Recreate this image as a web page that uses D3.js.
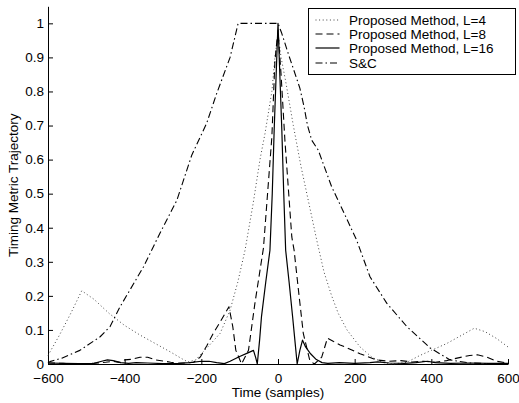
<!DOCTYPE html>
<html>
<head>
<meta charset="utf-8">
<script src="https://cdn.jsdelivr.net/npm/d3@7"></script>
<style>
    body { margin: 0; background: #fff; }
    svg { display: block; font-family: "Liberation Sans", Arial, Helvetica, sans-serif; }
    .axis text { font-size: 13.5px; fill: #000; }
    .axis path, .axis line { stroke: #000; stroke-width: 1; }
</style>
</head>
<body>
<div id="chart"></div>
<script>
// Timing metric trajectories

const xTicks = [-600, -400, -200, 0, 200, 400, 600];
const yTicks = [0, 0.1, 0.2, 0.3, 0.4, 0.5, 0.6, 0.7, 0.8, 0.9, 1];

// Proposed Method, L=4
const timeL4 = [-600, -570, -540, -512, -480, -440, -400, -360, -320, -280, -250, -235, -215, -200, -175, -151, -125, -105, -86, -65, -47, -34, -16, -8, 0,
    8, 20, 40, 60, 79, 101, 120, 140, 157, 180, 214, 245, 274, 300, 336, 370, 400, 440, 480, 512, 540, 570, 600];
const metricL4 = [0.025, 0.085, 0.15, 0.215, 0.19, 0.148, 0.113, 0.085, 0.06, 0.035, 0.015, 0.006, 0.012, 0.03, 0.06, 0.09, 0.158, 0.24, 0.334, 0.47, 0.6, 0.676, 0.8, 0.9, 0.97,
    0.9, 0.83, 0.7, 0.58, 0.48, 0.364, 0.27, 0.2, 0.149, 0.1, 0.05, 0.02, 0.004, 0.0, 0.005, 0.025, 0.04, 0.06, 0.085, 0.105, 0.095, 0.075, 0.05];

// Proposed Method, L=8
const timeL8 = [-600, -560, -520, -480, -450, -430, -410, -400, -380, -360, -340, -320, -300, -280, -260, -240, -220, -203, -185, -169, -150, -128, -118, -110, -95,
    -77, -60, -38, -16, -8, 0, 8, 18, 36, 42, 55, 66, 83, 95, 114, 129, 145, 162, 185, 214, 257, 290, 320, 350, 380, 410, 440, 470, 500, 520, 545, 570, 600];
const metricL8 = [0.003, 0.002, 0.0, 0.002, 0.005, 0.008, 0.004, 0.012, 0.014, 0.02, 0.02, 0.012, 0.009, 0.005, 0.002, 0.003, 0.005, 0.02, 0.055, 0.09, 0.125, 0.168, 0.11, 0.04, 0.0,
    0.04, 0.18, 0.34, 0.667, 0.89, 0.98, 0.85, 0.657, 0.373, 0.334, 0.2, 0.09, 0.01, 0.0, 0.02, 0.076, 0.066, 0.056, 0.045, 0.03, 0.012, 0.008, 0.01, 0.006, 0.008, 0.005, 0.01, 0.018, 0.025, 0.027, 0.02, 0.008, 0.003];

// Proposed Method, L=16
const timeL16 = [-600, -560, -520, -480, -460, -445, -430, -410, -390, -370, -340, -300, -260, -230, -200, -180, -160, -140, -125, -100, -80, -64, -58, -54,
    -48, -43, -32, -21, -15, -10, 0, 10, 15, 20, 29, 38, 44, 50, 57, 64, 72, 85, 100, 115, 130, 160, 200, 240, 260, 290, 330, 360, 390, 410, 450, 500, 550, 600];
const metricL16 = [0.003, 0.002, 0.001, 0.002, 0.008, 0.012, 0.01, 0.004, 0.002, 0.004, 0.003, 0.001, 0.002, 0.004, 0.008, 0.008, 0.004, 0.001, 0.008, 0.022, 0.032, 0.04, 0.018, 0.0,
    0.07, 0.14, 0.24, 0.334, 0.5, 0.686, 1.0, 0.686, 0.5, 0.334, 0.24, 0.14, 0.07, 0.0, 0.04, 0.07, 0.05, 0.03, 0.013, 0.004, 0.002, 0.004, 0.002, 0.004, 0.006, 0.003, 0.002, 0.004, 0.008, 0.004, 0.002, 0.003, 0.002, 0.002];

// S&C
const timeSC = [-600, -595, -564, -517, -464, -438, -412, -351, -308, -264, -225, -186, -160, -125, -104, 0,
    10, 27, 40, 57, 68, 77, 88, 105, 140, 157, 205, 240, 284, 336, 397, 449, 500, 550, 600];
const metricSC = [0.003, 0.007, 0.017, 0.04, 0.08, 0.11, 0.168, 0.285, 0.384, 0.48, 0.613, 0.707, 0.794, 0.9, 1.0, 1.0,
    0.97, 0.91, 0.867, 0.81, 0.755, 0.7, 0.657, 0.628, 0.52, 0.48, 0.364, 0.256, 0.178, 0.11, 0.047, 0.012, 0.003, 0.001, 0.0];

const seriesNames = ['Proposed Method, L=4', 'Proposed Method, L=8', 'Proposed Method, L=16', 'S&C'];

// line styles per series
const styles = [
    { color: '#444', width: 1, dash: '1,2.6' },
    { color: '#000', width: 1.1, dash: '7,4' },
    { color: '#000', width: 1.2, dash: null },
    { color: '#000', width: 1.1, dash: '7,3,1.5,3' }
];

const series = [
    d3.zip(timeL4, metricL4),
    d3.zip(timeL8, metricL8),
    d3.zip(timeL16, metricL16),
    d3.zip(timeSC, metricSC)
];

const width = 519;
const height = 403;
const margin = { top: 6.3, right: 11, bottom: 39, left: 48 };

const svg = d3.select('#chart')
    .append('svg')
    .attr('width', width)
    .attr('height', height);

// Scales
const xScale = d3.scaleLinear()
    .domain([-600, 600])
    .range([margin.left, width - margin.right]);

const yScale = d3.scaleLinear()
    .domain([0, 1.05])
    .range([height - margin.bottom, margin.top]);

// Axes (ticks point inward, no box)
svg.append('g')
    .attr('class', 'axis x-axis')
    .attr('transform', `translate(0,${height - margin.bottom})`)
    .call(d3.axisBottom(xScale).tickValues(xTicks).tickSizeInner(-5).tickSizeOuter(0).tickPadding(9));

svg.append('g')
    .attr('class', 'axis y-axis')
    .attr('transform', `translate(${margin.left},0)`)
    .call(d3.axisLeft(yScale).tickValues(yTicks).tickFormat(d3.format('~g')).tickSizeInner(-5).tickSizeOuter(0).tickPadding(4));

// Axis labels
svg.append('text')
    .attr('x', xScale(0))
    .attr('y', 397)
    .attr('text-anchor', 'middle')
    .attr('font-size', 13.5)
    .text('Time (samples)');

svg.append('text')
    .attr('transform', 'rotate(-90)')
    .attr('x', -(yScale(0) + yScale(1.05)) / 2)
    .attr('y', 18)
    .attr('text-anchor', 'middle')
    .attr('font-size', 13.5)
    .text('Timing Metric Trajectory');

// Lines
const line = d3.line()
    .x(d => xScale(d[0]))
    .y(d => yScale(d[1]));

series.forEach((data, i) => {
    svg.append('path')
        .datum(data)
        .attr('fill', 'none')
        .attr('stroke', styles[i].color)
        .attr('stroke-width', styles[i].width)
        .attr('stroke-dasharray', styles[i].dash)
        .attr('stroke-linejoin', 'round')
        .attr('d', line);
});

// Legend
const legend = svg.append('g').attr('transform', 'translate(308.5,8.5)');

legend.append('rect')
    .attr('width', 207)
    .attr('height', 66)
    .attr('fill', '#fff')
    .attr('stroke', '#000');

const rowY = [11.5, 25.5, 39.5, 54.5];

seriesNames.forEach((name, i) => {
    legend.append('line')
        .attr('x1', 7)
        .attr('x2', 31)
        .attr('y1', rowY[i])
        .attr('y2', rowY[i])
        .attr('stroke', styles[i].color)
        .attr('stroke-width', styles[i].width)
        .attr('stroke-dasharray', styles[i].dash);

    legend.append('text')
        .attr('x', 40.5)
        .attr('y', rowY[i])
        .attr('dy', '0.35em')
        .attr('font-size', 13.5)
        .text(name);
});
</script>
</body>
</html>
